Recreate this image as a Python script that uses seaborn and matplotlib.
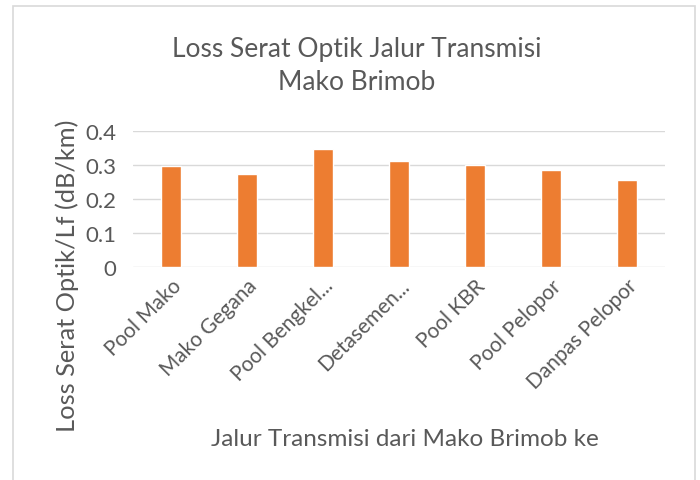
import pandas as pd
import seaborn as sns
import matplotlib.pyplot as plt
from matplotlib.patches import Rectangle

# data
jalur = ['Pool Mako', 'Mako Gegana', 'Pool Bengkel...', 'Detasemen...',
         'Pool KBR', 'Pool Pelopor', 'Danpas Pelopor']
loss = [0.297, 0.272, 0.346, 0.311, 0.299, 0.285, 0.255]
y_ticks = [0, 0.1, 0.2, 0.3, 0.4]
y_tick_labels = ['0', '0.1', '0.2', '0.3', '0.4']

df = pd.DataFrame({'jalur': jalur, 'loss': loss})

sns.set_theme(style='white')
plt.rcParams['font.family'] = ['Lato', 'DejaVu Sans']
text_col = '#595959'

fig = plt.figure(figsize=(7, 4.81), dpi=100)
ax = fig.add_axes([0.19, 0.443, 0.76, 0.2826])

sns.barplot(data=df, x='jalur', y='loss', color='#ED7D31', width=0.27,
            saturation=1, ax=ax, zorder=3)

ax.set_ylim(0, 0.4)
ax.set_yticks(y_ticks)
ax.set_yticklabels(y_tick_labels, fontsize=16, color=text_col)
ax.yaxis.grid(True, color='#d9d9d9', linewidth=1, zorder=0)
ax.tick_params(axis='y', length=0, pad=12)
ax.tick_params(axis='x', length=0, pad=6)
for s in ax.spines.values():
    s.set_visible(False)

ax.set_xticks(range(len(jalur)))
ax.set_xticklabels(jalur, rotation=45, ha='right', rotation_mode='anchor',
                   fontsize=15, color=text_col)
ax.set_xlabel('')
ax.set_ylabel('')

fig.text(405 / 700, 1 - 440 / 481, 'Jalur Transmisi dari Mako Brimob ke',
         ha='center', va='center', fontsize=17.5, color=text_col)
fig.text(67 / 700, 1 - 276 / 481, 'Loss Serat Optik/Lf (dB/km)',
         ha='center', va='center', rotation=90, fontsize=18.3, color=text_col)

fig.text(357 / 700, 1 - 66 / 481, 'Loss Serat Optik Jalur Transmisi\nMako Brimob',
         ha='center', va='center', fontsize=19, color=text_col,
         linespacing=1.4)

# chart frame
fig.patches.append(Rectangle((13 / 700, -0.05), 682 / 700, 1.05 - 7 / 481,
                             transform=fig.transFigure, fill=False,
                             edgecolor='#d9d9d9', linewidth=1.2))

fig.savefig('out.png', dpi=100)
